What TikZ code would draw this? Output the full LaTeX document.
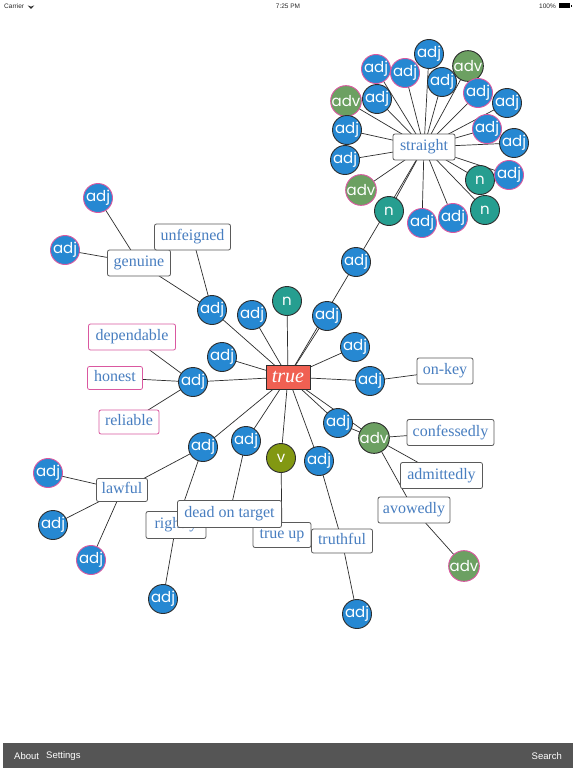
\documentclass[tikz,border=0pt]{standalone}
\usepackage{fontspec}
\setmainfont{Liberation Serif}
\newfontfamily\circfont{Poppins}
\newfontfamily\uifont{Liberation Sans}
\usetikzlibrary{backgrounds}
\definecolor{cblue}{RGB}{38,136,210}
\definecolor{cteal}{RGB}{38,158,144}
\definecolor{cgreen}{RGB}{108,160,98}
\definecolor{colive}{RGB}{130,152,18}
\definecolor{cpink}{RGB}{218,88,160}
\definecolor{cdark}{RGB}{45,45,45}
\definecolor{cred}{RGB}{240,96,82}
\definecolor{ctext}{RGB}{72,126,192}
\definecolor{cboxb}{RGB}{90,90,90}
\definecolor{cbar}{RGB}{85,85,85}
\definecolor{cstat}{RGB}{40,40,40}
\tikzset{
  circ/.style={circle, minimum size=29pt, inner sep=0pt, fill=cblue, draw=cdark, line width=0.9pt, text=white, font=\circfont\fontsize{15}{15}\selectfont},
  pk/.style={draw=cpink},
  tl/.style={fill=cteal},
  gr/.style={fill=cgreen},
  ol/.style={fill=colive},
  wbox/.style={rectangle, rounded corners=2pt, draw=cboxb, line width=0.8pt, fill=white, text=ctext, inner xsep=0pt, inner ysep=0pt, minimum height=26pt, text height=11pt, text depth=4pt, font=\fontsize{16}{16}\selectfont},
  pbox/.style={wbox, draw=cpink},
  link/.style={draw=cdark, line width=0.7pt},
  stat/.style={font=\uifont\fontsize{6.5}{6.5}\selectfont, text=cstat, inner sep=0pt},
  barlbl/.style={font=\uifont\fontsize{9.5}{9.5}\selectfont, text=white, inner sep=0pt},
}
\begin{document}
\begin{tikzpicture}[x=1pt,y=-1pt]
\useasboundingbox (0,0) rectangle (576,768);
\begin{scope}[on background layer]
\fill[white] (0,0) rectangle (576,768);
\end{scope}

% status bar
\node[stat, anchor=west] (carrier) at (4,6) {Carrier};
\node[stat] (time) at (288,6) {7:25 PM};
\node[stat, anchor=east] (pct) at (556,6) {100\%};
\fill[cstat] (31,9) -- ++(-3.3,-3.6) arc[start angle=228, end angle=312, radius=4.9pt] -- cycle;
\fill[black] (559,3.5) rectangle (570,8.5);
\fill[black] (570.5,5) rectangle (571.5,7);

% bottom bar
\fill[cbar] (3,743) rectangle (573,768);
\node[barlbl, anchor=west] (about) at (14,756) {About};
\node[barlbl, anchor=west] (settings) at (46,756) {Settings};
\node[barlbl, anchor=east] (search) at (562,756) {Search};

% straight cluster
\node[wbox, minimum width=62pt] (straight) at (424,147) {straight};
\node[circ] (c1) at (429,54) {adj};
\node[circ, gr] (c2) at (468,66) {adv};
\node[circ, pk] (c3) at (376,69) {adj};
\node[circ, pk] (c4) at (405,73) {adj};
\node[circ] (c5) at (442,82) {adj};
\node[circ, pk] (c6) at (478,93) {adj};
\node[circ] (c7) at (507,103) {adj};
\node[circ, gr, pk] (c8) at (346,101) {adv};
\node[circ] (c9) at (377,99) {adj};
\node[circ] (c10) at (347,130) {adj};
\node[circ, pk] (c11) at (487,129) {adj};
\node[circ] (c12) at (514,143) {adj};
\node[circ] (c13) at (345,160) {adj};
\node[circ, tl] (c15) at (480,180) {n};
\node[circ, pk] (c14) at (509,175) {adj};
\node[circ, gr, pk] (c16) at (361,190) {adv};
\node[circ, tl] (c17) at (389,211) {n};
\node[circ, tl] (c18) at (485,210) {n};
\node[circ, pk] (c19) at (422,223) {adj};
\node[circ, pk] (c20) at (453,218) {adj};

% centre
\node[rectangle, fill=cred, draw=cdark, line width=0.8pt, text=white, minimum width=44pt, minimum height=24pt, inner sep=0pt, font=\itshape\fontsize{20}{20}\selectfont] (true) at (288,377) {true};
\node[circ] (agen) at (212,310) {adj};
\node[circ] (a2) at (252,315) {adj};
\node[circ, tl] (n1) at (287,301) {n};
\node[circ] (a3) at (222,357) {adj};
\node[circ] (adep) at (193,382) {adj};
\node[circ] (asr) at (356,262) {adj};
\node[circ] (a4) at (327,316) {adj};
\node[circ] (a5) at (355,347) {adj};
\node[circ] (aok) at (370,381) {adj};
\node[circ] (a6) at (338,423) {adj};
\node[circ, gr] (adv1) at (374,438) {adv};
\node[circ] (alaw) at (203,447) {adj};
\node[circ] (adot) at (246,441) {adj};
\node[circ, ol] (v1) at (281,458) {v};
\node[circ] (atr) at (319,461) {adj};

% upper left
\node[wbox, minimum width=63pt] (genuine) at (139,263) {genuine};
\node[wbox, minimum width=76pt] (unfeigned) at (192.5,237) {unfeigned};
\node[circ, pk] (g1) at (98,198) {adj};
\node[circ, pk] (g2) at (65,250) {adj};

% left pink boxes
\node[pbox, minimum width=87pt] (dependable) at (132,337) {dependable};
\node[pbox, minimum width=55pt, minimum height=23pt] (honest) at (115,378) {honest};
\node[pbox, minimum width=60pt, minimum height=24pt] (reliable) at (129,422) {reliable};

% right
\node[wbox, minimum width=56pt] (onkey) at (445,371) {on-key};
\node[wbox, minimum width=87pt] (confessedly) at (450.5,432.5) {confessedly};
\node[wbox, minimum width=82pt] (admittedly) at (441.5,475.5) {admittedly};
\node[wbox, minimum width=72pt] (avowedly) at (414,510) {avowedly};
\node[circ, gr, pk] (adv2) at (464,566) {adv};

% bottom
\node[wbox, minimum width=58pt, minimum height=25pt] (trueup) at (282,535) {true up};
\node[wbox, minimum width=61pt, minimum height=24pt] (truthful) at (342,541) {truthful};
\node[circ] (abt) at (357,614) {adj};
\node[wbox, minimum width=60pt, minimum height=27pt] (rightly) at (176,525) {rightly};
\node[wbox, minimum width=104pt, minimum height=27pt] (deadon) at (229.5,514) {dead on target};
\node[circ] (abr) at (163,599) {adj};
\node[wbox, minimum width=51pt, minimum height=23pt] (lawful) at (122,490) {lawful};
\node[circ, pk] (l1) at (48,473) {adj};
\node[circ] (l2) at (53,525) {adj};
\node[circ, pk] (l3) at (91,560) {adj};

\begin{scope}[on background layer]
\foreach \c in {c1,c2,c3,c4,c5,c6,c7,c8,c9,c10,c11,c12,c13,c14,c15,c16,c17,c18,c19,c20,asr}
  \draw[link] (straight.center) -- (\c.center);
\foreach \c in {agen,a2,n1,a3,adep,asr,a4,a5,aok,a6,adv1,alaw,adot,v1,atr}
  \draw[link] (true.center) -- (\c.center);
\draw[link] (agen.center) -- (genuine.center);
\draw[link] (agen.center) -- (unfeigned.center);
\draw[link] (g1.center) -- (genuine.center);
\draw[link] (g2.center) -- (genuine.center);
\draw[link] (adep.center) -- (dependable.center);
\draw[link] (adep.center) -- (honest.center);
\draw[link] (adep.center) -- (reliable.center);
\draw[link] (aok.center) -- (onkey.center);
\draw[link] (a6.center) -- (adv1.center);
\draw[link] (adv1.center) -- (confessedly.center);
\draw[link] (adv1.center) -- (admittedly.center);
\draw[link] (adv1.center) -- (avowedly.center);
\draw[link] (avowedly.center) -- (adv2.center);
\draw[link] (atr.center) -- (truthful.center);
\draw[link] (truthful.center) -- (abt.center);
\draw[link] (v1.center) -- (trueup.center);
\draw[link] (adot.center) -- (deadon.center);
\draw[link] (alaw.center) -- (rightly.center);
\draw[link] (rightly.center) -- (abr.center);
\draw[link] (alaw.center) -- (lawful.center);
\draw[link] (lawful.center) -- (l1.center);
\draw[link] (lawful.center) -- (l2.center);
\draw[link] (lawful.center) -- (l3.center);
\end{scope}
\end{tikzpicture}
\end{document}
